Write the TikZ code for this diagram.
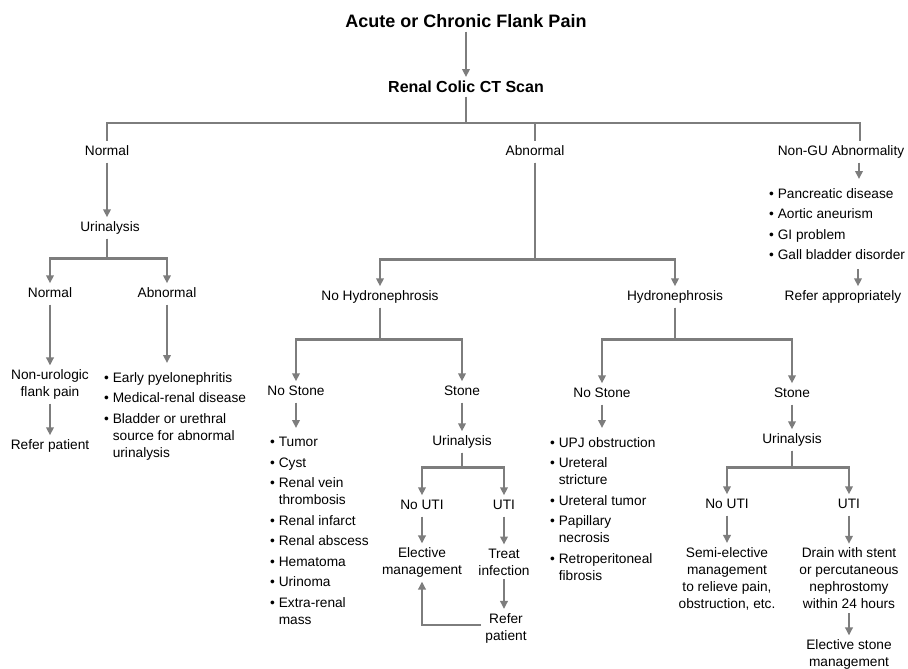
\documentclass[tikz,border=0pt]{standalone}
\usepackage{fontspec}
\setmainfont{Liberation Sans}
\usepackage{tikz}
\usetikzlibrary{arrows.meta, positioning, calc}
\definecolor{linegray}{RGB}{125, 125, 125}
\newcommand{\bul}{\textbullet\ }
\newcommand{\bulind}{\phantom{\textbullet\ }}
\tikzstyle{heading} = [font=\fontsize{18}{22}\selectfont\bfseries, text height=13pt, text depth=0pt, inner sep=4pt]
\tikzstyle{subheading} = [font=\fontsize{16}{20}\selectfont\bfseries, text height=11.5pt, text depth=0pt, inner sep=4pt]
\tikzstyle{choice} = [font=\fontsize{13.7}{17}\selectfont, text height=10pt, text depth=3pt, inner sep=4pt]
\tikzstyle{outcome} = [font=\fontsize{13.7}{17}\selectfont, align=center, inner sep=4pt]
\tikzstyle{bullets} = [font=\fontsize{13.7}{17}\selectfont, align=left, inner xsep=0pt, inner ysep=9pt]
\tikzstyle{link} = [draw=linegray, line width=2.8pt]
\tikzstyle{arrow} = [link, -{Triangle[length=8pt, width=7.5pt]}]

\begin{document}
\begin{tikzpicture}[node distance=65pt]
\useasboundingbox (-466pt,21pt) rectangle (442pt,-648pt);

% Top
\node (pain) [heading] {Acute or Chronic Flank Pain};
\node (scan) [subheading, below of=pain, yshift=-1pt] {Renal Colic CT Scan};

% CT result
\node (normal) [choice, below of=scan, xshift=-359pt] {Normal};
\node (abnormal) [choice, below of=scan, xshift=69pt] {Abnormal};
\node (nongu) [choice, below of=scan, xshift=375pt] {Non-GU Abnormality};

% Normal CT
\node (urin1) [choice, below of=normal, xshift=3pt, yshift=-11pt] {Urinalysis};
\node (normal2) [choice, below of=urin1, xshift=-60pt, yshift=-1pt] {Normal};
\node (abnormal2) [choice, below of=urin1, xshift=57pt, yshift=-1pt] {Abnormal};
\node (nonuro) [outcome, below of=normal2, yshift=-25.5pt] {Non-urologic\\flank pain};
\node (referpat) [choice, below of=nonuro, yshift=3.5pt] {Refer patient};
\node (abnlist) [bullets, below of=abnormal2, xshift=-63pt, yshift=-4pt, anchor=north west] {\bul Early pyelonephritis\\[3.5pt]\bul Medical-renal disease\\[3.5pt]\bul Bladder or urethral\\\bulind source for abnormal\\\bulind urinalysis};

% Abnormal CT
\node (nohydro) [choice, below of=abnormal, xshift=-155pt, yshift=-80pt] {No Hydronephrosis};
\node (hydro) [choice, below of=abnormal, xshift=140pt, yshift=-80pt] {Hydronephrosis};

% No hydronephrosis
\node (nostone1) [choice, below of=nohydro, xshift=-84pt, yshift=-30pt] {No Stone};
\node (stone1) [choice, below of=nohydro, xshift=82pt, yshift=-30pt] {Stone};
\node (masslist) [bullets, below of=nostone1, xshift=-26pt, yshift=29pt, anchor=north west] {\bul Tumor\\[3.5pt]\bul Cyst\\[3.5pt]\bul Renal vein\\\bulind thrombosis\\[3.5pt]\bul Renal infarct\\[3.5pt]\bul Renal abscess\\[3.5pt]\bul Hematoma\\[3.5pt]\bul Urinoma\\[3.5pt]\bul Extra-renal\\\bulind mass};
\node (urin2) [choice, below of=stone1, yshift=15pt] {Urinalysis};
\node (noinf1) [choice, below of=urin2, xshift=-40pt, yshift=1pt] {No UTI};
\node (inf1) [choice, below of=urin2, xshift=42pt, yshift=1pt] {UTI};
\node (elective) [outcome, below of=noinf1, yshift=8.5pt] {Elective\\management};
\node (treat) [outcome, below of=inf1, yshift=9pt] {Treat\\infection};
\node (refer2) [outcome, below of=treat, xshift=2pt, yshift=-1pt] {Refer\\patient};

% Hydronephrosis
\node (nostone2) [choice, below of=hydro, xshift=-73pt, yshift=-32pt] {No Stone};
\node (stone2) [choice, below of=hydro, xshift=117pt, yshift=-32pt] {Stone};
\node (obstlist) [bullets, below of=nostone2, xshift=-52pt, yshift=31pt, anchor=north west] {\bul UPJ obstruction\\[3.5pt]\bul Ureteral\\\bulind stricture\\[3.5pt]\bul Ureteral tumor\\[3.5pt]\bul Papillary\\\bulind necrosis\\[3.5pt]\bul Retroperitoneal\\\bulind fibrosis};
\node (urin3) [choice, below of=stone2, yshift=19pt] {Urinalysis};
\node (noinf2) [choice, below of=urin3, xshift=-65pt] {No UTI};
\node (inf2) [choice, below of=urin3, xshift=57pt] {UTI};
\node (semi) [outcome, below of=noinf2, yshift=-8.5pt] {Semi-elective\\management\\to relieve pain,\\obstruction, etc.};
\node (drain) [outcome, below of=inf2, yshift=-8.5pt] {Drain with stent\\or percutaneous\\nephrostomy\\within 24 hours};
\node (elstone) [outcome, below of=drain, yshift=-11pt] {Elective stone\\management};

% Non-GU
\node (ngulist) [bullets, below of=nongu, xshift=-72pt, yshift=38pt, anchor=north west] {\bul Pancreatic disease\\[3.5pt]\bul Aortic aneurism\\[3.5pt]\bul GI problem\\[3.5pt]\bul Gall bladder disorder};
\node (referapp) [choice, below of=nongu, xshift=2pt, yshift=-80pt] {Refer appropriately};

% Arrows
\draw [arrow] (pain) -- (scan);
\draw [link] (scan.south) -- ++(0,-26pt) -| (normal.north);
\draw [link] (scan.south) -- ++(0,-26pt) -| (abnormal.north);
\draw [link] (scan.south) -- ++(0,-26pt) -| ([xshift=19pt]nongu.north);

\draw [arrow] (normal) -- (normal |- urin1.north);
\draw [arrow] (urin1.south -| normal) -- ++(0,-19.5pt) -| (normal2.north);
\draw [arrow] (urin1.south -| normal) -- ++(0,-19.5pt) -| (abnormal2.north);
\draw [arrow] (normal2) -- (nonuro);
\draw [arrow] (nonuro) -- (referpat);
\draw [arrow] (abnormal2) -- (abnormal2 |- abnlist.north);

\draw [arrow] (abnormal.south) -- ++(0,-96.5pt) -| (nohydro.north);
\draw [arrow] (abnormal.south) -- ++(0,-96.5pt) -| (hydro.north);

\draw [arrow] (nohydro.south) -- ++(0,-32pt) -| (nostone1.north);
\draw [arrow] (nohydro.south) -- ++(0,-32pt) -| (stone1.north);
\draw [arrow] (nostone1) -- (nostone1 |- masslist.north);
\draw [arrow] (stone1) -- (urin2);
\draw [arrow] (urin2.south) -- ++(0,-14.5pt) -| (noinf1.north);
\draw [arrow] (urin2.south) -- ++(0,-14.5pt) -| (inf1.north);
\draw [arrow] (noinf1) -- (elective);
\draw [arrow] (inf1) -- (treat);
\draw [arrow] (treat) -- (treat |- refer2.north);
\draw [arrow] ([yshift=3pt]refer2.west) -| (elective.south);

\draw [arrow] (hydro.south) -- ++(0,-32pt) -| (nostone2.north);
\draw [arrow] (hydro.south) -- ++(0,-32pt) -| (stone2.north);
\draw [arrow] (nostone2) -- (nostone2 |- obstlist.north);
\draw [arrow] (stone2) -- (urin3);
\draw [arrow] (urin3.south) -- ++(0,-16.5pt) -| (noinf2.north);
\draw [arrow] (urin3.south) -- ++(0,-16.5pt) -| (inf2.north);
\draw [arrow] (noinf2) -- (semi);
\draw [arrow] (inf2) -- (drain);
\draw [arrow] (drain) -- (elstone);

\draw [arrow] ([xshift=18pt]nongu.south) -- ([xshift=18pt]nongu.south |- ngulist.north);
\draw [arrow] ([xshift=15pt]referapp.north |- ngulist.south) -- ([xshift=15pt]referapp.north);

\end{tikzpicture}
\end{document}
